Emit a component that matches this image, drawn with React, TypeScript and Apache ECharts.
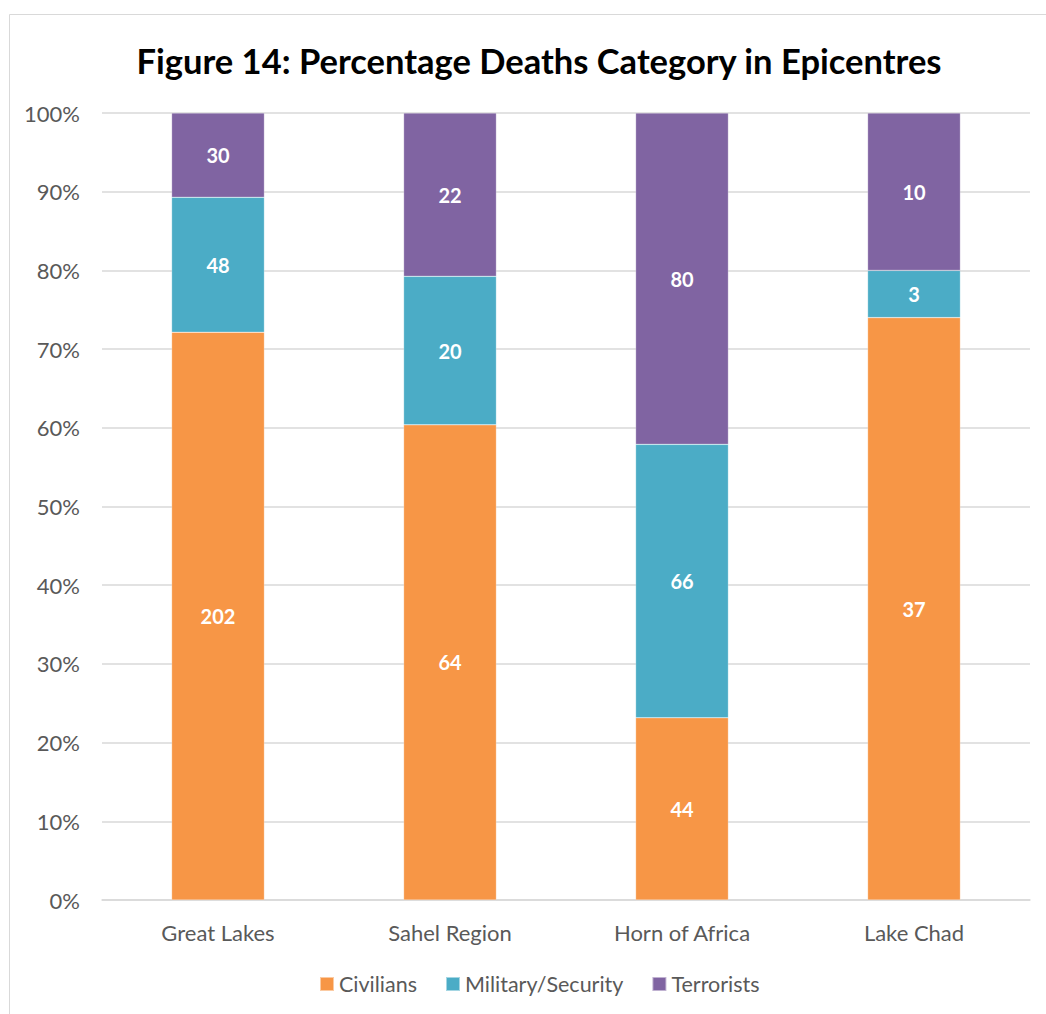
import React, { useEffect, useRef } from "react";
import * as echarts from "echarts";

const categories = ["Great Lakes", "Sahel Region", "Horn of Africa", "Lake Chad"];
const civilians = [202, 64, 44, 37];
const military = [48, 20, 66, 3];
const terrorists = [30, 22, 80, 10];
const yTicks = ["0%", "10%", "20%", "30%", "40%", "50%", "60%", "70%", "80%", "90%", "100%"];

const totals = categories.map((_, i) => civilians[i] + military[i] + terrorists[i]);
const pct = (arr: number[]) => arr.map((v, i) => ({ value: (v / totals[i]) * 100, count: v }));

const FONT = "Lato, 'Open Sans', sans-serif";

export default function App() {
  const ref = useRef<HTMLDivElement>(null);
  useEffect(() => {
    const chart = echarts.init(ref.current!, null, { renderer: "svg" });
    const label = {
      show: true,
      position: "inside",
      color: "#fff",
      fontWeight: "bold",
      fontSize: 20,
      fontFamily: FONT,
      formatter: (p: any) => String(p.data.count),
    };
    const mk = (name: string, data: number[], color: string) => ({
      name,
      type: "bar",
      stack: "all",
      barWidth: "40%",
      data: pct(data),
      itemStyle: { color, borderColor: "rgba(255,255,255,0.5)", borderWidth: 0.5 },
      label,
    });
    chart.setOption({
      animation: false,
      backgroundColor: "#fff",
      textStyle: { fontFamily: FONT },
      title: {
        text: "Figure 14: Percentage Deaths Category in Epicentres",
        left: 534,
        textAlign: "center",
        top: 38,
        textStyle: { fontSize: 34.5, fontWeight: "bold", color: "#000", fontFamily: FONT },
      },
      graphic: [
        {
          type: "rect",
          shape: { x: 9.5, y: 14.5, width: 1100, height: 1100 },
          style: { fill: "none", stroke: "#d9d9d9", lineWidth: 1 },
          silent: true,
        },
      ],
      legend: {
        bottom: 14,
        left: 314,
        itemWidth: 14,
        itemHeight: 14,
        itemGap: 28,
        icon: "rect",
        textStyle: { fontSize: 21.5, color: "#595959", fontFamily: FONT },
        data: ["Civilians", "Military/Security", "Terrorists"],
      },
      grid: { left: 102, right: 16, top: 113, bottom: 114 },
      xAxis: {
        type: "category",
        data: categories,
        axisTick: { show: false },
        axisLine: { lineStyle: { color: "#d9d9d9", width: 1.5 } },
        axisLabel: { fontSize: 22, color: "#595959", margin: 21, fontFamily: FONT },
      },
      yAxis: {
        type: "value",
        min: 0,
        max: 100,
        interval: 10,
        axisLabel: {
          fontSize: 22,
          color: "#595959",
          margin: 22,
          fontFamily: FONT,
          formatter: (v: number) => yTicks[Math.round(v / 10)],
        },
        splitLine: { lineStyle: { color: "#d9d9d9", width: 1.5 } },
      },
      series: [
        mk("Civilians", civilians, "#F79646"),
        mk("Military/Security", military, "#4BACC6"),
        mk("Terrorists", terrorists, "#8064A2"),
      ],
    });
    return () => chart.dispose();
  }, []);
  return (
    <div
      ref={ref}
      style={{ position: "absolute", left: 0, top: 0, width: 1046, height: 1014 }}
    />
  );
}
